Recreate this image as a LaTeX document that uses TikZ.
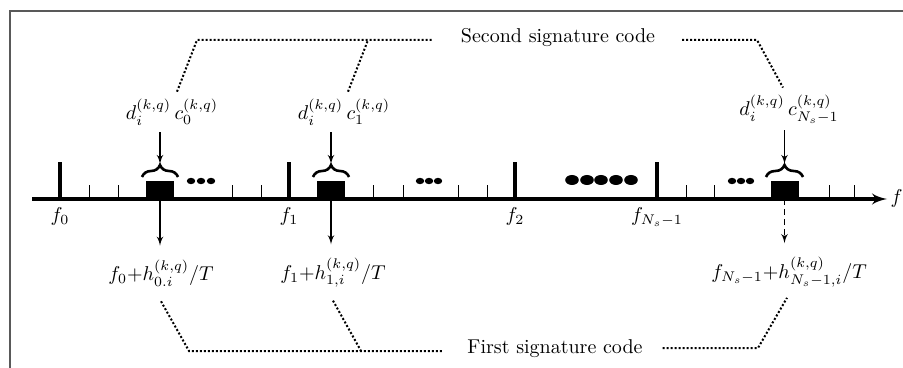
\documentclass[tikz,border=0pt]{standalone}
\usepackage{amsmath,amssymb}
\usepackage{xcolor}
\usepackage{tikz}
\usetikzlibrary{arrows,positioning,calc,decorations.pathreplacing}

\begin{document}
\begin{tikzpicture}[x=0.5pt, y=-0.5pt,
    frame/.style={draw=gray!70!black, line width=1pt},
    axis/.style={draw, -latex', line width=1.6pt},
    bigtick/.style={draw, line width=2pt},
    smalltick/.style={draw, line width=0.5pt},
    blk/.style={rectangle, fill=black, minimum width=14pt, minimum height=9pt, inner sep=0pt},
    cbrace/.style={draw, decorate, decoration={brace, amplitude=6pt}, line width=1.3pt},
    line/.style={draw, -latex', line width=0.6pt},
    sig/.style={draw, densely dotted, line width=1pt}]
    \useasboundingbox (0,0) rectangle (903,368);

    % Frame (only top and left edges are in view)
    \draw [frame] (10,368) -- (10,11) -- (903,11);

    % Frequency axis
    \draw [axis] (32,199) -- (887,199) node [right=0.5pt, inner sep=0.5pt] (faxis) {$f$};
    \foreach \x/\name in {60/t0, 289/t1, 515/t2, 657/tN}
        \draw [bigtick] (\x,199) coordinate (\name) -- (\x,162);
    \foreach \x in {89,118,232,261,373,403,458,487,686,714,829,854}
        \draw [smalltick] (\x,199) -- (\x,185);

    \node [below=1pt of t0] (lf0) {$f_0$};
    \node [below=1pt of t1] (lf1) {$f_1$};
    \node [below=1pt of t2] (lf2) {$f_2$};
    \node [below=1pt of tN] (lfN) {$f_{N_s-1}$};

    % Dots between the sub-bands
    \foreach \x in {191,201,211, 420,429,438, 732,741,750}
        \fill (\x,181) ellipse [x radius=2.1pt, y radius=1.6pt];
    \foreach \x in {572,587,601,616,631}
        \fill (\x,180) ellipse [x radius=3.4pt, y radius=2.5pt];

    % Occupied sub-carriers
    \node [blk] (b0) at (160,190) {};
    \node [blk] (b1) at (331,190) {};
    \node [blk] (bN) at (784.5,190) {};

    \draw [cbrace] (142,177) -- (178,177);
    \draw [cbrace] (313,177) -- (349,177);
    \draw [cbrace] (766,177) -- (803,177);
    \coordinate (br0) at (160,164);
    \coordinate (br1) at (331,164);
    \coordinate (brN) at (784.5,164);

    % Upper labels: second signature code
    \node (dc0) at (172,112) {$d_i^{(k,q)}\,c_0^{(k,q)}$};
    \node (dc1) at (344,112) {$d_i^{(k,q)}\,c_1^{(k,q)}$};
    \node (dcN) at (789,109) {$d_i^{(k,q)}\,c_{N_s-1}^{(k,q)}$};

    \draw [line] (dc0.south -| br0) -- (br0);
    \draw [line] (dc1.south -| br1) -- (br1);
    \draw [line] (dcN.south -| brN) -- (brN);

    \node (sig2) at (558,38) {Second signature code};
    \coordinate (s2l) at (197,40);
    \coordinate (s2r) at (757,40);
    \draw [sig] ([xshift=2.5pt]dc0.north) -- (s2l) -- ($(sig2.west |- s2l)+(-22,0)$);
    \draw [sig] ([xshift=2pt]dc1.north) -- (368,40);
    \draw [sig] ($(sig2.east |- s2r)+(20,0)$) -- (s2r) -- ([xshift=-3pt]dcN.north);

    % Lower labels: first signature code
    \node (hf0) at (161,273) {$f_0{+}h_{0.i}^{(k,q)}/T$};
    \node (hf1) at (333,273) {$f_1{+}h_{1,i}^{(k,q)}/T$};
    \node (hfN) at (789,272) {$f_{N_s-1}{+}h_{N_s-1,i}^{(k,q)}/T$};

    \draw [line] (b0.south) -- ($(b0.south |- hf0.north)+(0,-7)$);
    \draw [line] (b1.south) -- ($(b1.south |- hf1.north)+(0,-7)$);
    \draw [line, densely dashed] (bN.south) -- ($(bN.south |- hfN.north)+(0,-7)$);

    \node (sig1) at (555,349) {First signature code};
    \coordinate (s1l) at (189,351);
    \coordinate (s1r) at (758,348);
    \draw [sig] ([yshift=-4pt]hf0.south) -- (s1l) -- ($(sig1.west |- s1l)+(-17,0)$);
    \draw [sig] ([yshift=-3pt]hf1.south) -- (361,351);
    \draw [sig] ($(sig1.east |- s1r)+(13,0)$) -- (s1r) -- ([xshift=-1pt, yshift=-2pt]hfN.south);
\end{tikzpicture}
\end{document}
